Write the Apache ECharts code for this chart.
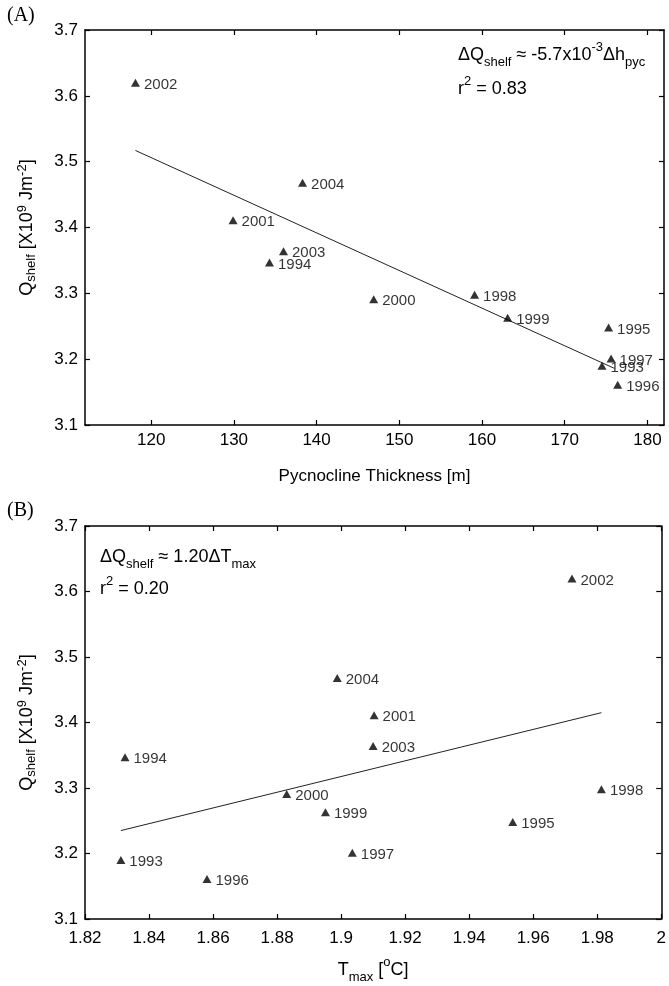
<!DOCTYPE html>
<html>
<head>
<meta charset="utf-8">
<script src="https://cdn.jsdelivr.net/npm/echarts@6/dist/echarts.min.js"></script>
<style>
  html, body { margin: 0; padding: 0; background: #fff; }
  #chart { width: 669px; height: 986px; }
</style>
</head>
<body>
<div id="chart"></div>
<script>
// Annual shelf heat content against pycnocline thickness (A) and summer maximum temperature (B)
const years = ['1993', '1994', '1995', '1996', '1997', '1998', '1999', '2000', '2001', '2002', '2003', '2004'];
const qShelf = [3.190, 3.347, 3.248, 3.161, 3.201, 3.298, 3.263, 3.291, 3.411, 3.620, 3.364, 3.468];
const pycThickness = [174.5, 134.3, 175.3, 176.4, 175.6, 159.1, 163.1, 146.9, 129.9, 118.1, 136.0, 138.3];
const tMax = [1.8312, 1.8325, 1.9536, 1.8581, 1.9035, 1.9813, 1.8951, 1.8830, 1.9103, 1.9721, 1.9100, 1.8988];

// least-squares fit lines (end points)
const fitA = [[118.1, 3.517], [176.0, 3.186]];
const fitB = [[1.8312, 3.235], [1.9813, 3.415]];

// axis ranges and tick values
const xRangeA = [112, 182];
const xRangeB = [1.82, 2.0];
const yRange = [3.1, 3.7];
const xTicksA = [120, 130, 140, 150, 160, 170, 180];
const xTicksB = [1.82, 1.84, 1.86, 1.88, 1.9, 1.92, 1.94, 1.96, 1.98, 2];
const yTicks = [3.1, 3.2, 3.3, 3.4, 3.5, 3.6, 3.7];

const SANS = 'Liberation Sans, Arial, Helvetica, sans-serif';
const SERIF = 'Liberation Serif, Times New Roman, serif';
const black = '#000';

const chart = echarts.init(document.getElementById('chart'), null, { renderer: 'canvas' });

// One side of a boxed frame: axis line plus inward ticks, optionally labelled
function frameAxis(gridIndex, position, range, ticks, withLabels, labelMargin) {
  return {
    type: 'value',
    gridIndex: gridIndex,
    position: position,
    min: range[0],
    max: range[1],
    scale: true,
    axisLine: { show: true, onZero: false, lineStyle: { color: black, width: 1.5 } },
    axisTick: { show: true, inside: true, length: 5, customValues: ticks, lineStyle: { color: black, width: 1.2 } },
    axisLabel: withLabels ? {
      show: true,
      customValues: ticks,
      margin: labelMargin,
      color: black,
      fontSize: 17,
      fontFamily: SANS,
      padding: (position === 'left') ? [6, 0, 0, 0] : 0,
      formatter: v => String(v)
    } : { show: false },
    splitLine: { show: false }
  };
}

const smallRich = {
  m: { fontSize: 18, fontFamily: SANS, color: black, lineHeight: 28, verticalAlign: 'middle' },
  sub: { fontSize: 13, fontFamily: SANS, color: black, lineHeight: 12, verticalAlign: 'bottom' },
  sup: { fontSize: 13, fontFamily: SANS, color: black, lineHeight: 18, verticalAlign: 'top' }
};

const qAxisName = '{m|Q}{sub|shelf}{m| [X10}{sup|9}{m| Jm}{sup|-2}{m|]}';
const qAxisRich = {
  m: { fontSize: 18, fontFamily: SANS, color: black, lineHeight: 22, verticalAlign: 'middle' },
  sub: { fontSize: 13, fontFamily: SANS, color: black, lineHeight: 14, verticalAlign: 'bottom' },
  sup: { fontSize: 13, fontFamily: SANS, color: black, lineHeight: 10, verticalAlign: 'top' }
};

function leftAxis(gridIndex) {
  const ax = frameAxis(gridIndex, 'left', yRange, yTicks, true, 7);
  ax.name = qAxisName;
  ax.nameLocation = 'middle';
  ax.nameGap = 47;
  ax.nameTextStyle = { rich: qAxisRich };
  return ax;
}

const xA = frameAxis(0, 'bottom', xRangeA, xTicksA, true, 7);
xA.name = 'Pycnocline Thickness [m]';
xA.nameLocation = 'middle';
xA.nameGap = 43;
xA.nameTextStyle = { color: black, fontSize: 17, fontFamily: SANS };

const xB = frameAxis(1, 'bottom', xRangeB, xTicksB, true, 11);
xB.name = '{m|T}{sub|max}{m| [}{sup|o}{m|C]}';
xB.nameLocation = 'middle';
xB.nameGap = 37;
xB.nameTextStyle = { rich: smallRich };

function scatterSeries(xIdx, yIdx, xs) {
  return {
    type: 'scatter',
    xAxisIndex: xIdx,
    yAxisIndex: yIdx,
    symbol: 'triangle',
    symbolSize: [9, 8],
    itemStyle: { color: black },
    label: {
      show: true,
      position: 'right',
      distance: 4,
      offset: [0, 2],
      color: black,
      fontSize: 15,
      fontFamily: SANS,
      formatter: p => p.value[2]
    },
    emphasis: { disabled: true },
    silent: true,
    data: years.map((y, i) => [xs[i], qShelf[i], y])
  };
}

function fitSeries(xIdx, yIdx, pts) {
  return {
    type: 'line',
    xAxisIndex: xIdx,
    yAxisIndex: yIdx,
    symbol: 'none',
    lineStyle: { color: '#222', width: 1 },
    emphasis: { disabled: true },
    silent: true,
    z: 1,
    data: pts
  };
}

const option = {
  animation: false,
  backgroundColor: '#fff',
  grid: [
    { left: 85, top: 30, width: 579, height: 395 },
    { left: 85, top: 526, width: 579, height: 393 }
  ],
  xAxis: [
    xA,
    xB,
    frameAxis(0, 'top', xRangeA, xTicksA, false, 0),
    frameAxis(1, 'top', xRangeB, xTicksB, false, 0)
  ],
  yAxis: [
    leftAxis(0),
    leftAxis(1),
    frameAxis(0, 'right', yRange, yTicks, false, 0),
    frameAxis(1, 'right', yRange, yTicks, false, 0)
  ],
  series: [
    fitSeries(0, 0, fitA),
    scatterSeries(0, 0, pycThickness),
    fitSeries(1, 1, fitB),
    scatterSeries(1, 1, tMax)
  ],
  graphic: [
    { type: 'text', left: 7, top: 6, style: { text: '(A)', font: '20px ' + SERIF, fill: black } },
    { type: 'text', left: 7, top: 501, style: { text: '(B)', font: '20px ' + SERIF, fill: black } },
    {
      type: 'text', x: 458, y: 55,
      style: {
        text: '{m|ΔQ}{sub|shelf}{m| ≈ -5.7x10}{sup|-3}{m|Δh}{sub|pyc}',
        rich: smallRich, verticalAlign: 'middle', align: 'left'
      }
    },
    {
      type: 'text', x: 458, y: 89,
      style: { text: '{m|r}{sup|2}{m| = 0.83}', rich: smallRich, verticalAlign: 'middle', align: 'left' }
    },
    {
      type: 'text', x: 100, y: 557,
      style: {
        text: '{m|ΔQ}{sub|shelf}{m| ≈ 1.20ΔT}{sub|max}',
        rich: smallRich, verticalAlign: 'middle', align: 'left'
      }
    },
    {
      type: 'text', x: 100, y: 589,
      style: { text: '{m|r}{sup|2}{m| = 0.20}', rich: smallRich, verticalAlign: 'middle', align: 'left' }
    }
  ]
};

chart.setOption(option);
</script>
</body>
</html>
